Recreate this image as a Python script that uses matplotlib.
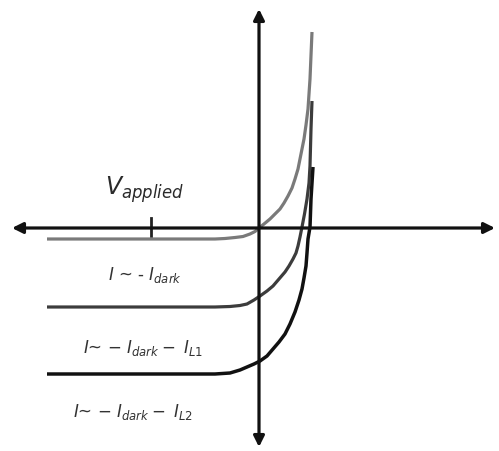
import matplotlib
matplotlib.use('Agg')
import matplotlib.pyplot as plt

plt.rcParams['font.family'] = ['DejaVu Sans']
plt.rcParams['mathtext.fontset'] = 'dejavusans'

# I-V curves of a solar cell (dark, light L1, light L2)
v_dark = [-2.12, -0.59, -0.44, -0.34, -0.24, -0.16, -0.09, -0.04, 0.00, 0.05,
          0.11, 0.16, 0.21, 0.25, 0.29, 0.33, 0.36, 0.39, 0.41, 0.43, 0.45, 0.47,
          0.49, 0.51, 0.53]
i_dark = [-0.11, -0.11, -0.11, -0.105, -0.095, -0.085, -0.06, -0.035, 0.00, 0.04,
          0.09, 0.14, 0.19, 0.25, 0.32, 0.40, 0.49, 0.59, 0.69, 0.79, 0.89, 1.03,
          1.19, 1.49, 1.96]

v_l1 = [-2.12, -0.44, -0.29, -0.19, -0.12, -0.05, 0.01, 0.08, 0.14, 0.20, 0.26,
        0.30, 0.34, 0.37, 0.39, 0.41, 0.43, 0.455, 0.48, 0.50, 0.51, 0.52, 0.53]
i_l1 = [-0.79, -0.79, -0.785, -0.775, -0.76, -0.72, -0.68, -0.63, -0.58, -0.51, -0.44,
        -0.38, -0.31, -0.25, -0.18, -0.09, 0.01, 0.14, 0.29, 0.45, 0.62, 0.99, 1.27]

v_l2 = [-2.12, -0.44, -0.29, -0.19, -0.12, -0.05, 0.01, 0.08, 0.14, 0.20, 0.26,
        0.31, 0.36, 0.40, 0.43, 0.45, 0.47, 0.48, 0.49, 0.50, 0.51, 0.52, 0.54]
i_l2 = [-1.46, -1.46, -1.45, -1.42, -1.39, -1.36, -1.33, -1.28, -1.21, -1.14, -1.06,
        -0.96, -0.84, -0.72, -0.61, -0.50, -0.38, -0.25, -0.11, -0.05, 0.01, 0.29, 0.61]

tick_v = -1.08
labels = [r'$I$ ~ - $I_{dark}$',
          r'$I$~ $-$ $I_{dark}-$ $I_{L1}$',
          r'$I$~ $-$ $I_{dark}-$ $I_{L2}$']

fig = plt.figure(figsize=(4.99, 4.52), dpi=100)
ax = fig.add_axes([0, 0, 1, 1])
ax.set_xlim(-2.59, 2.40)
ax.set_ylim(-2.23, 2.29)
ax.axis('off')

# axes with arrows
arrow = dict(arrowstyle='<|-|>', lw=2.3, color='#111111', mutation_scale=16,
             shrinkA=0, shrinkB=0)
ax.annotate('', xy=(-2.47, 0), xytext=(2.36, 0), arrowprops=arrow)
ax.annotate('', xy=(0, 2.19), xytext=(0, -2.19), arrowprops=arrow)
ax.plot([tick_v, tick_v], [0.10, -0.08], color='#222222', lw=2)

ax.plot(v_dark, i_dark, color='#7a7a7a', lw=2.3, solid_capstyle='butt', solid_joinstyle='round')
ax.plot(v_l1, i_l1, color='#3c3c3c', lw=2.3, solid_capstyle='butt', solid_joinstyle='round')
ax.plot(v_l2, i_l2, color='#111111', lw=2.5, solid_capstyle='butt', solid_joinstyle='round')

ax.text(-1.14, 0.39, r'$V_{applied}$', fontsize=17, color='#2a2a2a',
        ha='center', va='center')
ax.text(-1.14, -0.46, labels[0], fontsize=12, color='#333333', ha='center', va='center')
ax.text(-1.16, -1.19, labels[1], fontsize=12, color='#333333', ha='center', va='center')
ax.text(-1.26, -1.83, labels[2], fontsize=12, color='#333333', ha='center', va='center')

fig.savefig('out.png', dpi=100)
